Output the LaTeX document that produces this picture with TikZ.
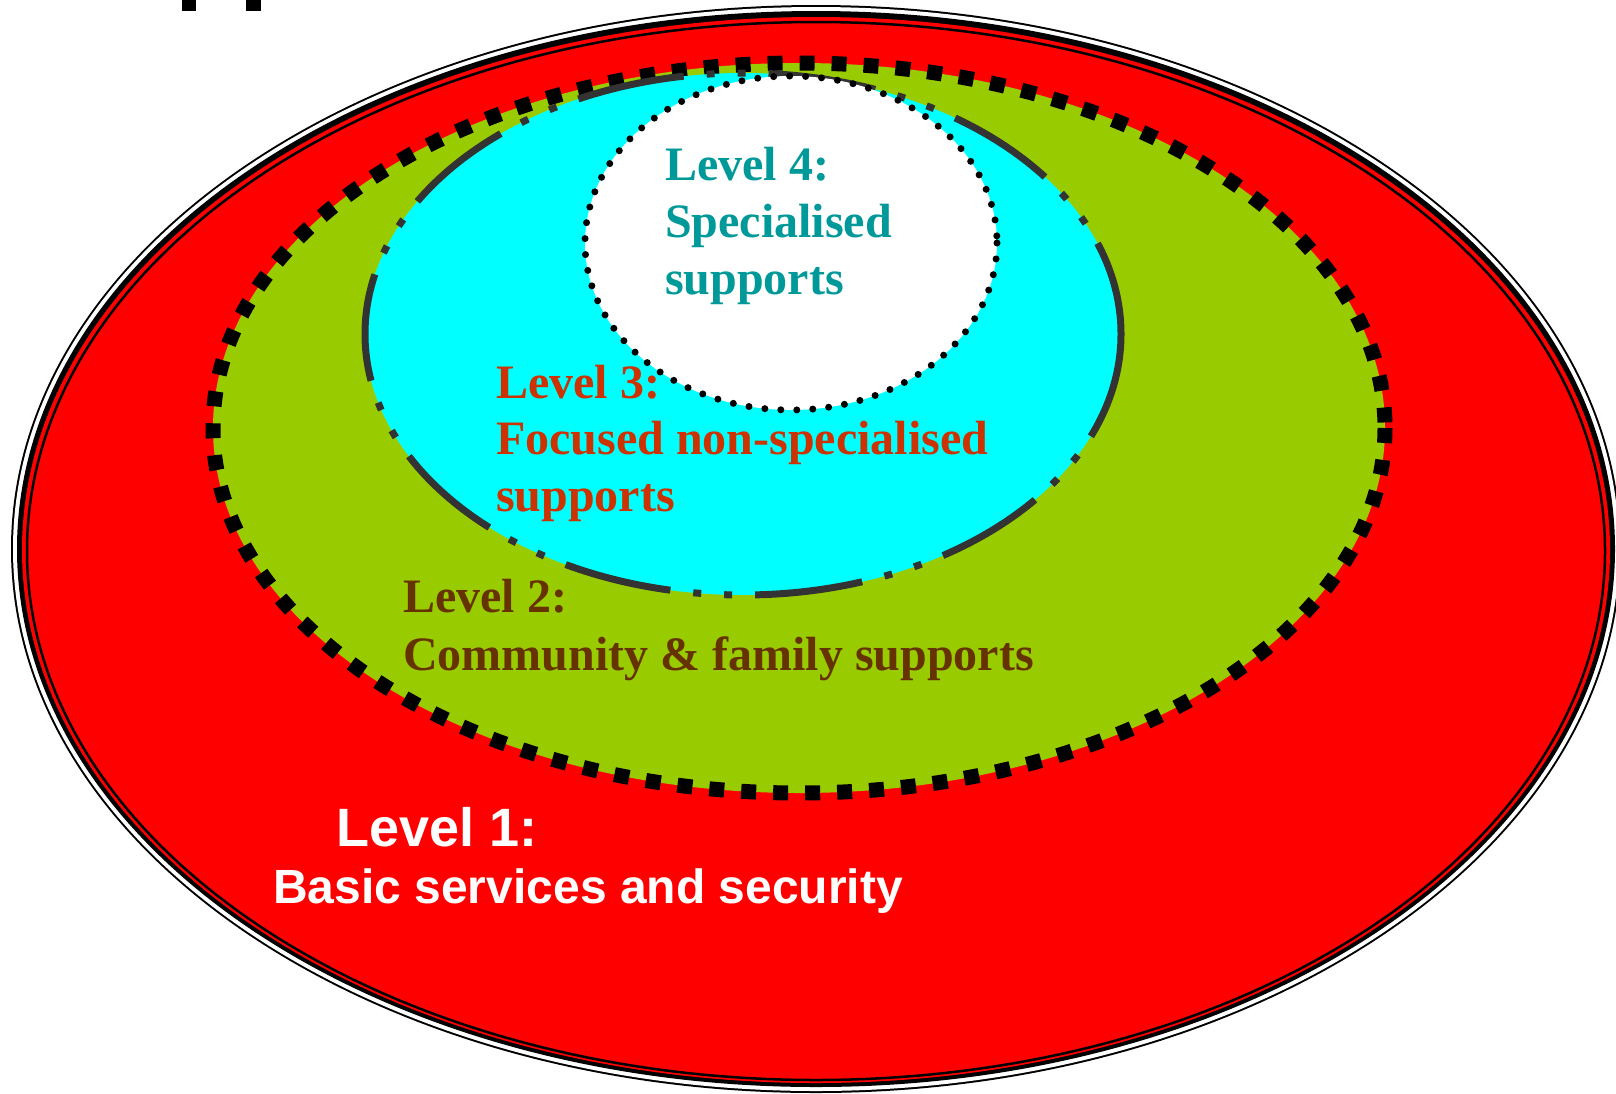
\documentclass[tikz,border=0pt]{standalone}
\usepackage{fontspec}
\setmainfont{Liberation Serif}
\newfontfamily\arialfont{Liberation Sans}
\definecolor{lvred}{HTML}{FF0000}
\definecolor{lvgreen}{HTML}{99CC00}
\definecolor{lvcyan}{HTML}{00FFFF}
\definecolor{lvgray}{HTML}{333333}
\definecolor{lvteal}{HTML}{009999}
\definecolor{lvorange}{HTML}{CC3300}
\definecolor{lvbrown}{HTML}{663300}
\tikzset{
  serifbig/.style={inner sep=0pt, anchor=base west, font=\fontsize{48}{57}\selectfont\bfseries},
  sansbig/.style={inner sep=0pt, anchor=base west, text=white, font=\fontsize{48}{57}\selectfont\arialfont\bfseries},
  greenborder/.style={draw=black, line width=15pt, dash pattern=on 15pt off 17pt},
  cyanborder/.style={draw=lvgray, line width=7pt, dash pattern=on 108pt off 23pt on 8pt off 23pt on 8pt off 23pt},
  whiteborder/.style={draw=black, line width=7pt, line cap=round, dash pattern=on 0pt off 16pt}
}
\begin{document}
\begin{tikzpicture}[x=1pt,y=-1pt]
\useasboundingbox (0,0) rectangle (1616,1093);
\clip (0,0) rectangle (1616,1093);
\fill[white] (0,0) rectangle (1616,1093);
% cut-off title marks
\fill[black] (182,0) rectangle (196,11);
\fill[black] (246,0) rectangle (261,11);
% level 1 outer ellipse with compound border
\fill[black] (816,549) ellipse [x radius=805, y radius=544];
\fill[white] (816,549) ellipse [x radius=803, y radius=542];
\fill[black] (816,549) ellipse [x radius=799, y radius=538];
\fill[lvred] (816,550) ellipse [x radius=794, y radius=533];
\draw[black, line width=2.5pt] (816,551) ellipse [x radius=789, y radius=529];
% level 2
\fill[lvgreen] (799,428) ellipse [x radius=586, y radius=365];
\path[greenborder] (799,428) ellipse [x radius=586, y radius=365];
% level 3
\fill[lvcyan] (743,334) ellipse [x radius=378, y radius=261];
\path[cyanborder] (743,334) ellipse [x radius=378, y radius=261];
% level 4
\fill[white] (791,243) ellipse [x radius=206, y radius=167];
\path[whiteborder] (791,243) ellipse [x radius=206, y radius=167];
% texts
\node[serifbig, text=lvteal] (l4a) at (665,180) {Level 4:};
\node[serifbig, text=lvteal] (l4b) at (665,237) {Specialised};
\node[serifbig, text=lvteal] (l4c) at (665,294) {supports};
\node[serifbig, text=lvorange] (l3a) at (496,398) {Level 3:};
\node[serifbig, text=lvorange] (l3b) at (496,454) {Focused non-specialised};
\node[serifbig, text=lvorange] (l3c) at (496,511) {supports};
\node[serifbig, text=lvbrown] (l2a) at (403,612) {Level 2:};
\node[serifbig, text=lvbrown] (l2b) at (403,670) {Community \& family supports};
\node[sansbig, font=\fontsize{54}{60}\selectfont\arialfont\bfseries] (l1a) at (336,846) {Level 1:};
\node[sansbig] (l1b) at (273,903) {Basic services and security};
\end{tikzpicture}
\end{document}
